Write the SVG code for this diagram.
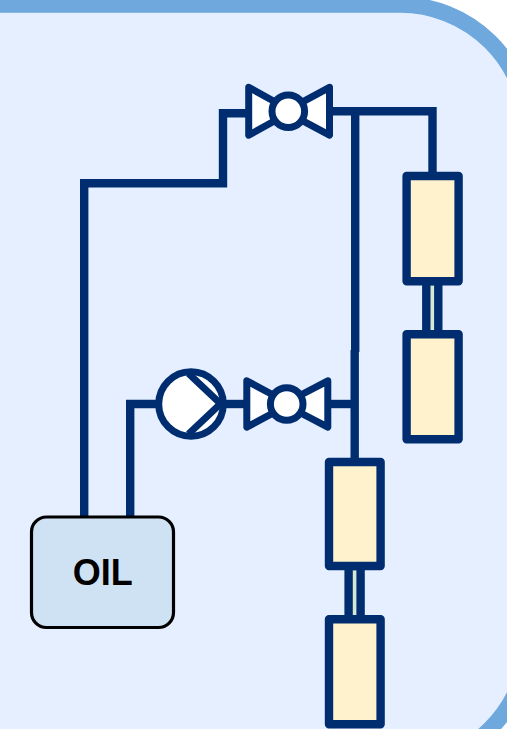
<svg xmlns="http://www.w3.org/2000/svg" width="507" height="729" viewBox="0 0 507 729">
  <style>
    .pipe{fill:none;stroke:#002d70;stroke-width:8.4;stroke-linecap:butt;stroke-linejoin:miter}
    .sym{fill:#fff;stroke:#002d70;stroke-width:7;stroke-linejoin:round}
    .tank{fill:#fff2cc;stroke:#002d70;stroke-width:8.4;stroke-linejoin:round}
    .link{fill:#d5e8d4;stroke:#002d70;stroke-width:8.4}
  </style>
  <rect width="507" height="729" fill="#fff"/>
  <path id="container" d="M-20 4.7H400A128 128 0 0 1 528 132.7V638A128 128 0 0 1 400 766H-20Z" fill="#e5efff" stroke="#6fa8dc" stroke-width="16"/>
  <g id="connectors">
    <path class="pipe" d="M84.2 517V183.3H223V113.3H250"/>
    <path class="pipe" d="M130.2 517V404H160"/>
    <path class="pipe" d="M222 404H250"/>
    <path class="pipe" d="M328 111.3H432.5V173"/>
    <path class="pipe" d="M355.2 111.3V352"/>
    <path class="pipe" d="M354.7 350V460"/>
    <path class="pipe" d="M326 404H355"/>
  </g>
  <g id="valve-top">
    <path class="sym" d="M248.7 87.3L292 111.3L248.7 135.2ZM329.5 87.3L285 111.3L329.5 135.2Z"/>
    <circle class="sym" cx="288.3" cy="111.3" r="16.3"/>
  </g>
  <g id="valve-bottom">
    <path class="sym" d="M246.8 380.8L290 404L246.8 427.2ZM327.8 380.8L283.5 404L327.8 427.2Z"/>
    <circle class="sym" cx="286.7" cy="404" r="16.3"/>
  </g>
  <g id="pump">
    <circle class="sym" cx="191" cy="404" r="32.3"/>
    <path d="M188.5 373.5L220.5 403.7L188.5 434" fill="none" stroke="#002d70" stroke-width="7"/>
  </g>
  <g id="tank-right">
    <rect class="link" x="426.3" y="281" width="12" height="53.5"/>
    <rect class="tank" x="406.6" y="176" width="52" height="105.3"/>
    <rect class="tank" x="406.6" y="334.3" width="52" height="105"/>
  </g>
  <g id="tank-lower">
    <rect class="link" x="348.6" y="566" width="12" height="53.5"/>
    <rect class="tank" x="329" y="462" width="51.6" height="104"/>
    <rect class="tank" x="329" y="619.3" width="51.6" height="105"/>
  </g>
  <g id="oil">
    <rect x="31.5" y="517" width="142" height="110.5" rx="15" ry="15" fill="#cfe2f3" stroke="#000" stroke-width="3.2"/>
    <text x="102.7" y="585" font-family="'Liberation Sans',Arial,sans-serif" font-size="36" font-weight="700" text-anchor="middle" fill="#000">OIL</text>
  </g>
</svg>
